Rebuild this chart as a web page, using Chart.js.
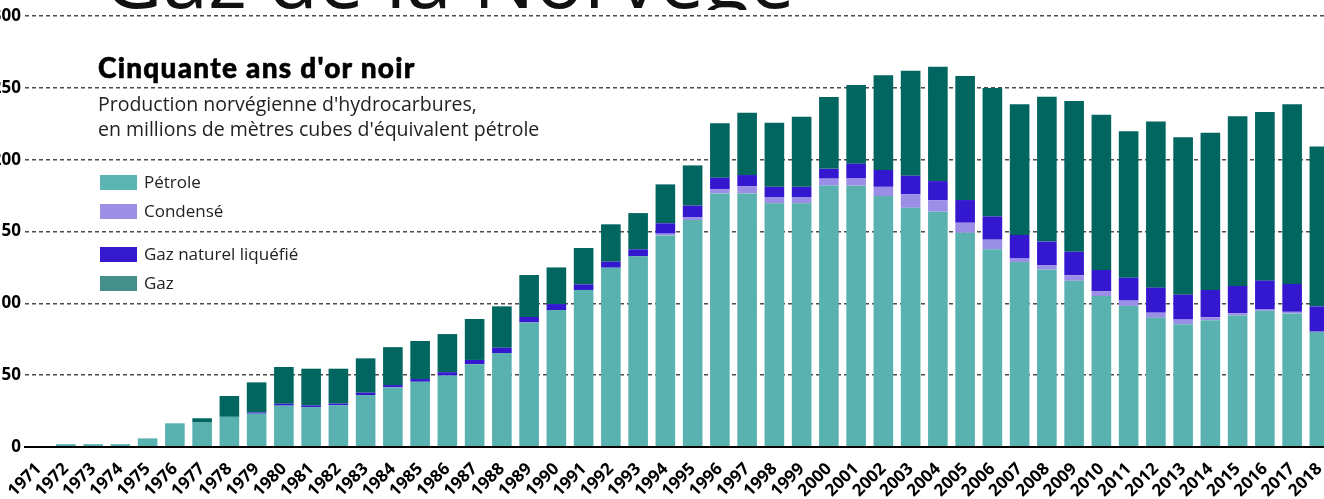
<!DOCTYPE html>
<html><head><meta charset="utf-8">
<script src="https://cdn.jsdelivr.net/npm/chart.js@4.4.1/dist/chart.umd.min.js"></script>
<style>
html,body{margin:0;padding:0;width:1324px;height:499px;overflow:hidden;background:#fff;}
body{position:relative;}
#wrap{position:absolute;left:-40px;top:0;width:1400px;height:530px;}
#wrap canvas{display:block;}
.bigclip{position:absolute;left:0;top:0;width:1324px;height:10px;overflow:hidden;}
.bigtitle{position:absolute;left:103px;top:-65px;font:400 82px/82px "Open Sans";color:#111;white-space:nowrap;}
.title{position:absolute;left:98px;top:52px;font:900 28px/30px Lato;letter-spacing:1.25px;color:#000;white-space:nowrap;-webkit-text-stroke:0.6px #000;}
.sub{position:absolute;left:98px;top:91px;font:400 19.5px/25px "Open Sans";color:#222;white-space:nowrap;}
.sw{position:absolute;left:100px;width:37px;height:15px;}
.lt{position:absolute;left:144px;font:400 17px/20px "Open Sans";color:#222;white-space:nowrap;}
</style></head>
<body>
<div id="wrap"><canvas id="c" width="1400" height="530"></canvas></div>
<div class="bigclip"><div class="bigtitle">Gaz de la Norvège</div></div>
<div class="title">Cinquante ans d'or noir</div>
<div class="sub">Production norvégienne d'hydrocarbures,<br>en millions de mètres cubes d'équivalent pétrole</div>
<div id="legend"></div>
<script>
const years = ["1971","1972","1973","1974","1975","1976","1977","1978","1979","1980",
  "1981","1982","1983","1984","1985","1986","1987","1988","1989","1990",
  "1991","1992","1993","1994","1995","1996","1997","1998","1999","2000",
  "2001","2002","2003","2004","2005","2006","2007","2008","2009","2010",
  "2011","2012","2013","2014","2015","2016","2017","2018"];
const petrole = [0,2,2,2,6,16.5,17,21,23.2,28.8,
  27.8,29,36.2,41.5,45.4,49.7,57.6,65.4,86.7,95.3,
  109.3,124.8,132.7,147.3,158,176.5,176.5,169.6,169.6,182,
  181.9,174.7,166.5,163.8,149.1,137.6,128.8,123.4,115.7,105.1,
  98.2,89.9,85.5,88.3,91.5,94.8,93,80];
const condense = [0,0,0,0,0,0,0,0,0,0,
  0,0,0,0,0,0,0,0,0,0,
  0,0,0,1.2,1.8,2.8,5.1,4.4,4.4,4.8,
  5,6.4,9.4,7.9,7,6.7,2.4,3,3.8,3.2,
  3.7,3.6,3.2,2,1.6,0.9,1.1,0.3];
const gnl = [0,0,0,0,0,0,0,0,0.8,1.3,
  1.2,1.2,1.6,1.6,1.9,2.4,3,3.7,3.8,4.2,
  3.9,4.2,4.9,7.2,8.2,8.1,7.7,7.1,7.1,6.8,
  10.3,11.7,12.9,13.4,15.8,16.2,16.4,16.6,16.4,14.9,
  15.9,17.4,17.3,19,19,20.1,19.4,17.6];
const gaz = [0,0,0,0,0,0,3,14.5,21,25.6,
  25.5,24.3,23.9,26.4,26.5,26.5,28.5,28.8,29.2,25.5,
  25.3,26,25.2,27.1,28,37.9,43.3,44.6,48.8,50.1,
  54.7,65.9,73.1,79.6,86.3,89.4,90.9,100.8,104.9,108,
  101.9,115.6,109.6,109.4,118.2,117.4,125,111.2];
const yTicks = [0,50,100,150,200,250,300];
const seriesNames = ["Pétrole","Condensé","Gaz naturel liquéfié","Gaz"];
const barColors = ["#5ab2b0","#9b8ee6","#3418cf","#00665f"];
const legendColors = ["#5cb5b3","#9d8fe5","#3519cf","#458f8b"];
const legendTops = [175,204,247,276];

const seriesData = [petrole, condense, gnl, gaz];

const lg = document.getElementById('legend');
seriesNames.forEach((n,i)=>{
  const s=document.createElement('div'); s.className='sw';
  s.style.top=legendTops[i]+'px'; s.style.background=legendColors[i]; lg.appendChild(s);
  const t=document.createElement('div'); t.className='lt';
  t.style.top=(legendTops[i]-2.6)+'px'; t.textContent=n; lg.appendChild(t);
});

new Chart(document.getElementById('c'), {
  type:'bar',
  data:{labels:years, datasets:seriesNames.map((n,i)=>({
    label:n, data:seriesData[i], backgroundColor:barColors[i], borderWidth:0
  }))},
  options:{
    responsive:false, animation:false,
    layout:{padding:{top:16,right:27,left:0,bottom:0}},
    plugins:{legend:{display:false}, tooltip:{enabled:false}},
    datasets:{bar:{categoryPercentage:1, barPercentage:0.72}},
    scales:{
      x:{stacked:true,
        grid:{display:false, drawTicks:false},
        border:{display:true, color:'#000', width:2, z:1},
        ticks:{autoSkip:false, maxRotation:45, minRotation:45, padding:12, color:'#000',
          font:{family:'Open Sans', weight:'bold', size:17}},
        afterFit(a){a.height=83; a.paddingLeft=0; a.paddingRight=0;}
      },
      y:{stacked:true, min:0, max:300,
        afterBuildTicks(a){a.ticks=yTicks.map(v=>({value:v}));},
        grid:{drawTicks:false, lineWidth:1.4,
          color:c=>(c.tick && c.tick.value===0)?'rgba(0,0,0,0)':'#4a4a4a'},
        border:{display:false, dash:[4,3]},
        ticks:{padding:4, color:'#000', font:{family:'Open Sans', weight:'bold', size:17}},
        afterFit(a){a.width=65;}
      }
    }
  }
});
</script>
</body></html>
